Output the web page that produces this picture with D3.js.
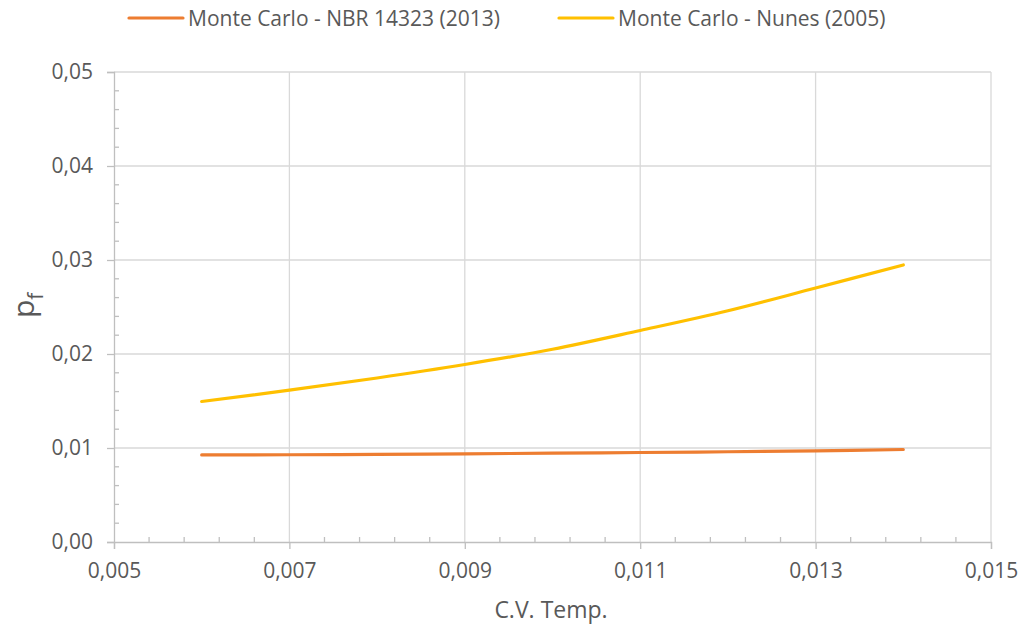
<!DOCTYPE html>
<html>
<head>
<meta charset="utf-8">
<script src="https://cdn.jsdelivr.net/npm/d3@7"></script>
<style>
  body { margin: 0; background: #fff; }
  text { font-family: "Open Sans", "Noto Sans", sans-serif; fill: #595959; }
</style>
</head>
<body>
<div id="chart"></div>
<script>
// data
var cvTemp = [0.006, 0.007, 0.008, 0.009, 0.010, 0.011, 0.012, 0.013, 0.014];
var pfNBR = [0.00926, 0.00928, 0.00932, 0.00938, 0.00945, 0.00952, 0.0096, 0.0097, 0.00984];
var pfNunes = [0.01495, 0.01615, 0.01745, 0.01888, 0.0205, 0.0225, 0.0246, 0.02702, 0.02947];
var seriesNames = ["Monte Carlo - NBR 14323 (2013)", "Monte Carlo - Nunes (2005)"];
var xTicks = [0.005, 0.007, 0.009, 0.011, 0.013, 0.015];
var yTicks = [0, 0.01, 0.02, 0.03, 0.04, 0.05];

var width = 1022, height = 628;
var margin = {left: 114, right: 31, top: 72, bottom: 86};

var svg = d3.select("#chart").append("svg")
  .attr("width", width).attr("height", height);

var x = d3.scaleLinear().domain([0.005, 0.015]).range([margin.left, width - margin.right]);
var y = d3.scaleLinear().domain([0, 0.05]).range([height - margin.bottom, margin.top]);

var fmt = function(d) { return d3.format(".3f")(d).replace(".", ","); };
var fmtY = function(d) { return d3.format(".2f")(d).replace(".", ","); };

// gridlines
svg.append("g").selectAll("line").data(yTicks.slice(1)).enter().append("line")
  .attr("x1", x(0.005)).attr("x2", x(0.015))
  .attr("y1", function(d) { return y(d); }).attr("y2", function(d) { return y(d); })
  .attr("stroke", "#d9d9d9").attr("stroke-width", 1.3);
svg.append("g").selectAll("line").data(xTicks.slice(1)).enter().append("line")
  .attr("x1", function(d) { return x(d); }).attr("x2", function(d) { return x(d); })
  .attr("y1", y(0)).attr("y2", y(0.05))
  .attr("stroke", "#d9d9d9").attr("stroke-width", 1.3);

// minor ticks (inside)
var xMinor = d3.range(0.005, 0.015, 0.0004).filter(function(d, i) { return i % 5 != 0; });
var yMinor = d3.range(0, 0.05, 0.002).filter(function(d, i) { return i % 5 != 0; });
svg.append("g").selectAll("line").data(xMinor).enter().append("line")
  .attr("x1", function(d) { return x(d); }).attr("x2", function(d) { return x(d); })
  .attr("y1", y(0)).attr("y2", y(0) - 5)
  .attr("stroke", "#bfbfbf").attr("stroke-width", 1.3);
svg.append("g").selectAll("line").data(yMinor).enter().append("line")
  .attr("x1", x(0.005)).attr("x2", x(0.005) + 5)
  .attr("y1", function(d) { return y(d); }).attr("y2", function(d) { return y(d); })
  .attr("stroke", "#bfbfbf").attr("stroke-width", 1.3);

// axes
var xAxis = svg.append("g")
  .attr("transform", "translate(0," + y(0) + ")")
  .call(d3.axisBottom(x).tickValues(xTicks).tickFormat(fmt).tickSize(7).tickPadding(14));
var yAxis = svg.append("g")
  .attr("transform", "translate(" + x(0.005) + ",0)")
  .call(d3.axisLeft(y).tickValues(yTicks).tickFormat(fmtY).tickSize(7).tickPadding(14));
[xAxis, yAxis].forEach(function(g) {
  g.select(".domain").attr("stroke", "#bfbfbf").attr("stroke-width", 1.3);
  g.selectAll(".tick line").attr("stroke", "#bfbfbf").attr("stroke-width", 1.3);
  g.selectAll(".tick text").style("font-size", "21px").attr("fill", "#595959");
});

// series
var line = d3.line()
  .x(function(d) { return x(d[0]); })
  .y(function(d) { return y(d[1]); })
  .curve(d3.curveCatmullRom);
var colors = ["#ED7D31", "#FFC000"];
[pfNBR, pfNunes].forEach(function(vals, i) {
  svg.append("path")
    .datum(cvTemp.map(function(c, j) { return [c, vals[j]]; }))
    .attr("d", line)
    .attr("fill", "none")
    .attr("stroke", colors[i])
    .attr("stroke-width", 3.2)
    .attr("stroke-linecap", "round");
});

// axis titles
svg.append("text")
  .attr("x", 551).attr("y", 618)
  .attr("text-anchor", "middle")
  .style("font-size", "23px")
  .text("C.V. Temp.");
var yt = svg.append("text")
  .attr("transform", "translate(34,318) rotate(-90)")
  .style("font-size", "30px");
yt.append("tspan").text("p");
yt.append("tspan").attr("dy", 9).style("font-size", "21px").text("f");

// legend
var legX = [129, 559];
seriesNames.forEach(function(name, i) {
  svg.append("line")
    .attr("x1", legX[i]).attr("x2", legX[i] + 54)
    .attr("y1", 18).attr("y2", 18)
    .attr("stroke", colors[i]).attr("stroke-width", 3.2)
    .attr("stroke-linecap", "round");
  svg.append("text")
    .attr("x", legX[i] + 59).attr("y", 26)
    .style("font-size", "21px")
    .text(name);
});
</script>
</body>
</html>
